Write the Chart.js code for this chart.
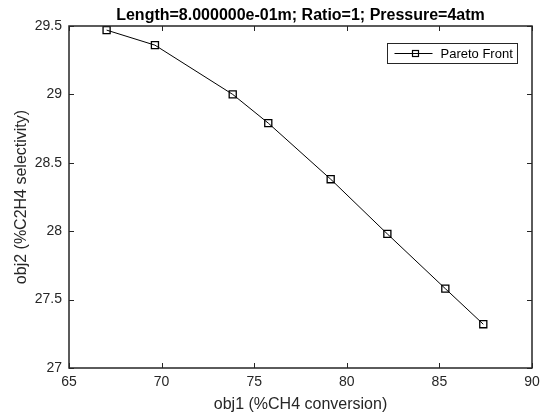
<!DOCTYPE html>
<html>
<head>
<meta charset="utf-8">
<script src="https://cdn.jsdelivr.net/npm/chart.js@4.4.0/dist/chart.umd.min.js"></script>
<style>
    html, body { margin: 0; padding: 0; background: #fff; }
    #wrap { width: 560px; height: 417px; }
</style>
</head>
<body>
<div id="wrap"><canvas id="chartPareto" width="560" height="417"></canvas></div>
<script>
const titleText = 'Length=8.000000e-01m; Ratio=1; Pressure=4atm';
const seriesName = 'Pareto Front';
const xAxisLabel = 'obj1 (%CH4 conversion)';
const yAxisLabel = 'obj2 (%C2H4 selectivity)';

const obj1 = [67.03, 69.64, 73.84, 75.76, 79.13, 82.19, 85.32, 87.37];
const obj2 = [29.47, 29.36, 29.00, 28.79, 28.38, 27.98, 27.58, 27.32];

const xTicks = [65, 70, 75, 80, 85, 90];
const xTickLabels = ['65', '70', '75', '80', '85', '90'];
const yTicks = [27, 27.5, 28, 28.5, 29, 29.5];
const yTickLabels = ['27', '27.5', '28', '28.5', '29', '29.5'];

const FONT = "'Liberation Sans', Arial, Helvetica, sans-serif";
const AXIS_COLOR = '#262626';

// matlab style box with inward ticks + boxed legend
const matlabAxes = {
    id: 'matlabAxes',
    afterDatasetsDraw(chart) {
        const ctx = chart.ctx;
        const area = chart.chartArea;
        const xs = chart.scales.x;
        const ys = chart.scales.y;
        const tick = 5;

        ctx.save();
        ctx.strokeStyle = AXIS_COLOR;
        ctx.lineWidth = 1;
        ctx.beginPath();
        xTicks.forEach((v) => {
            const px = Math.round(xs.getPixelForValue(v)) + 0.5;
            ctx.moveTo(px, area.bottom);
            ctx.lineTo(px, area.bottom - tick);
            ctx.moveTo(px, area.top);
            ctx.lineTo(px, area.top + tick);
        });
        yTicks.forEach((v) => {
            const py = Math.round(ys.getPixelForValue(v)) + 0.5;
            ctx.moveTo(area.left, py);
            ctx.lineTo(area.left + tick, py);
            ctx.moveTo(area.right, py);
            ctx.lineTo(area.right - tick, py);
        });
        ctx.stroke();

        ctx.lineWidth = 1.5;
        ctx.strokeRect(area.left, area.top, area.right - area.left, area.bottom - area.top);

        // legend
        const boxW = 130, boxH = 20;
        const bx = Math.round(area.right - 15 - boxW) + 0.5;
        const by = Math.round(area.top + 17) + 0.5;
        ctx.fillStyle = '#fff';
        ctx.fillRect(bx, by, boxW, boxH);
        ctx.lineWidth = 1;
        ctx.strokeStyle = AXIS_COLOR;
        ctx.strokeRect(bx, by, boxW, boxH);

        const ly = by + boxH / 2;
        ctx.strokeStyle = '#000';
        ctx.beginPath();
        ctx.moveTo(bx + 7, ly);
        ctx.lineTo(bx + 45, ly);
        ctx.stroke();
        ctx.lineWidth = 1.2;
        ctx.strokeRect(bx + 25, ly - 3, 6, 6);

        ctx.fillStyle = '#000';
        ctx.font = '13px ' + FONT;
        ctx.textBaseline = 'middle';
        ctx.textAlign = 'left';
        ctx.fillText(seriesName, bx + 53, ly + 0.5);
        ctx.restore();
    }
};

const config = {
    type: 'line',
    data: {
        datasets: [{
            label: seriesName,
            data: obj1.map((x, i) => ({ x: x, y: obj2[i] })),
            borderColor: '#000',
            borderWidth: 1,
            backgroundColor: 'rgba(0,0,0,0)',
            pointStyle: 'rect',
            pointRadius: 5,
            pointBorderWidth: 1.3,
            pointBorderColor: '#000',
            pointBackgroundColor: 'rgba(0,0,0,0)',
            tension: 0,
            fill: false,
        }]
    },
    options: {
        responsive: false,
        animation: false,
        devicePixelRatio: 1,
        layout: {
            padding: { left: 0, right: 28, top: 0, bottom: 0 }
        },
        plugins: {
            legend: { display: false },
            tooltip: { enabled: false },
            title: {
                display: true,
                text: titleText,
                fullSize: false,
                color: '#000',
                font: { family: FONT, size: 16, weight: 'bold', lineHeight: 1.2 },
                padding: { top: 6, bottom: 0.8 }
            }
        },
        scales: {
            x: {
                type: 'linear',
                min: 65,
                max: 90,
                afterBuildTicks: (scale) => { scale.ticks = xTicks.map((v) => ({ value: v })); },
                afterFit: (scale) => { scale.height = 49; },
                grid: { display: false, drawTicks: false },
                border: { display: false },
                ticks: {
                    color: AXIS_COLOR,
                    padding: 6,
                    maxRotation: 0,
                    autoSkip: false,
                    font: { family: FONT, size: 14 },
                    callback: (value) => xTickLabels[xTicks.indexOf(value)]
                },
                title: {
                    display: true,
                    text: xAxisLabel,
                    color: AXIS_COLOR,
                    font: { family: FONT, size: 16, lineHeight: 1.2 },
                    padding: { top: 0, bottom: 2.4 }
                }
            },
            y: {
                type: 'linear',
                min: 27,
                max: 29.5,
                afterBuildTicks: (scale) => { scale.ticks = yTicks.map((v) => ({ value: v })); },
                afterFit: (scale) => { scale.width = 69; },
                grid: { display: false, drawTicks: false },
                border: { display: false },
                ticks: {
                    color: AXIS_COLOR,
                    padding: 7,
                    autoSkip: false,
                    font: { family: FONT, size: 14 },
                    callback: (value) => yTickLabels[yTicks.indexOf(value)]
                },
                title: {
                    display: true,
                    text: yAxisLabel,
                    color: AXIS_COLOR,
                    font: { family: FONT, size: 16, lineHeight: 1.2 },
                    padding: { top: 12, bottom: 0 }
                }
            }
        }
    },
    plugins: [matlabAxes]
};

let chartPareto = new Chart(document.getElementById('chartPareto'), config);
</script>
</body>
</html>
